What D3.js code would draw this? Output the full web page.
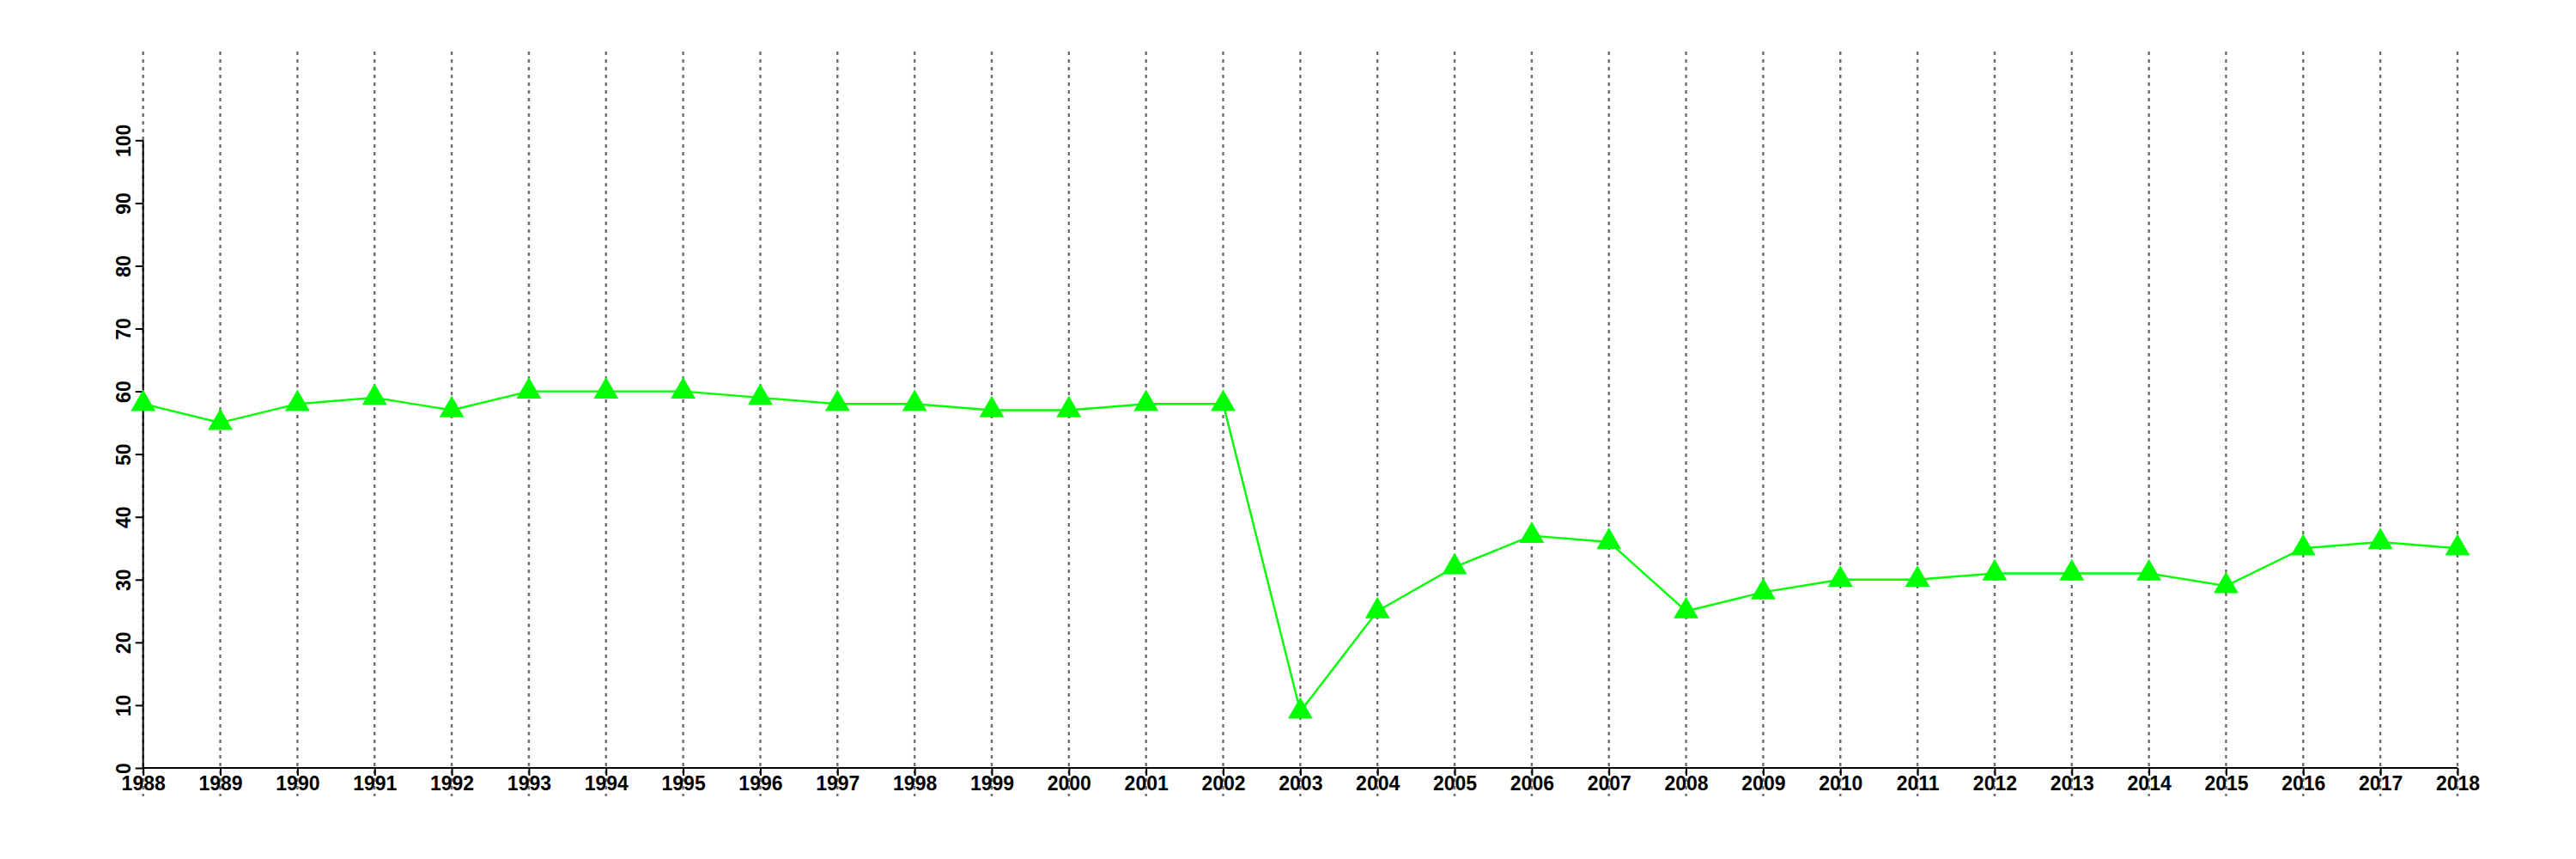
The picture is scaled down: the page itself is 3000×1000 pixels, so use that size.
<!DOCTYPE html>
<html>
<head>
<meta charset="utf-8">
<script src="https://cdn.jsdelivr.net/npm/d3@7"></script>
<style>
  html, body { margin: 0; padding: 0; background: #fff; }
  svg { display: block; }
  text { font-family: "Liberation Sans", Arial, Helvetica, sans-serif; font-weight: bold; fill: #000; }
</style>
</head>
<body>
<script>
const years = [1988,1989,1990,1991,1992,1993,1994,1995,1996,1997,1998,1999,2000,2001,2002,2003,2004,2005,2006,2007,2008,2009,2010,2011,2012,2013,2014,2015,2016,2017,2018];
const values = [58,55,58,59,57,60,60,60,59,58,58,57,57,58,58,9,25,32,37,36,25,28,30,30,31,31,31,29,35,36,35];
const yTicks = [0,10,20,30,40,50,60,70,80,90,100];

const W = 3000, H = 1000;
const svg = d3.select("body").append("svg").attr("width", W).attr("height", H);

const x = d3.scaleLinear().domain([1988, 2018]).range([166.7, 2862]);
const y = d3.scaleLinear().domain([0, 100]).range([894, 163.3]);

// dotted vertical grid lines
svg.append("g").selectAll("line").data(years).join("line")
  .attr("x1", d => x(d)).attr("x2", d => x(d))
  .attr("y1", 60).attr("y2", 927)
  .attr("stroke", "#6e6e6e").attr("stroke-width", 2.4)
  .attr("stroke-dasharray", "4,5");

// x axis
const xAxis = d3.axisBottom(x).tickValues(years).tickFormat(d3.format("d")).tickSize(9).tickPadding(1);
const gx = svg.append("g").attr("transform", "translate(0,894)").call(xAxis);
gx.attr("font-size", 23);
gx.select(".domain").attr("stroke", "#000").attr("stroke-width", 2).attr("d", `M${x(1988)},0H${x(2018)}`);
gx.selectAll(".tick line").attr("stroke", "#000").attr("stroke-width", 2);
gx.selectAll(".tick text").style("font-size", "23px").attr("dy", "0.71em");

// y axis
const yAxis = d3.axisLeft(y).tickValues(yTicks).tickSize(9).tickPadding(0);
const gy = svg.append("g").attr("transform", `translate(${x(1988)},0)`).call(yAxis);
gy.attr("font-size", 23);
gy.select(".domain").attr("stroke", "#000").attr("stroke-width", 2).attr("d", `M0,${y(0)}V${y(100)}`);
gy.selectAll(".tick line").attr("stroke", "#000").attr("stroke-width", 2);
gy.selectAll(".tick text")
  .style("font-size", "23px")
  .attr("x", null).attr("dy", null)
  .attr("text-anchor", "middle")
  .attr("transform", "translate(-15,0) rotate(-90)");

// line
const line = d3.line().x((d, i) => x(years[i])).y(d => y(d));
svg.append("path").datum(values)
  .attr("fill", "none").attr("stroke", "#00ff00").attr("stroke-width", 2.4)
  .attr("d", line);

// triangle markers
svg.append("g").selectAll("path").data(values).join("path")
  .attr("transform", (d, i) => `translate(${x(years[i])},${y(d)})`)
  .attr("d", d3.symbol().type(d3.symbolTriangle).size(360))
  .attr("fill", "#00ff00");
</script>
</body>
</html>
